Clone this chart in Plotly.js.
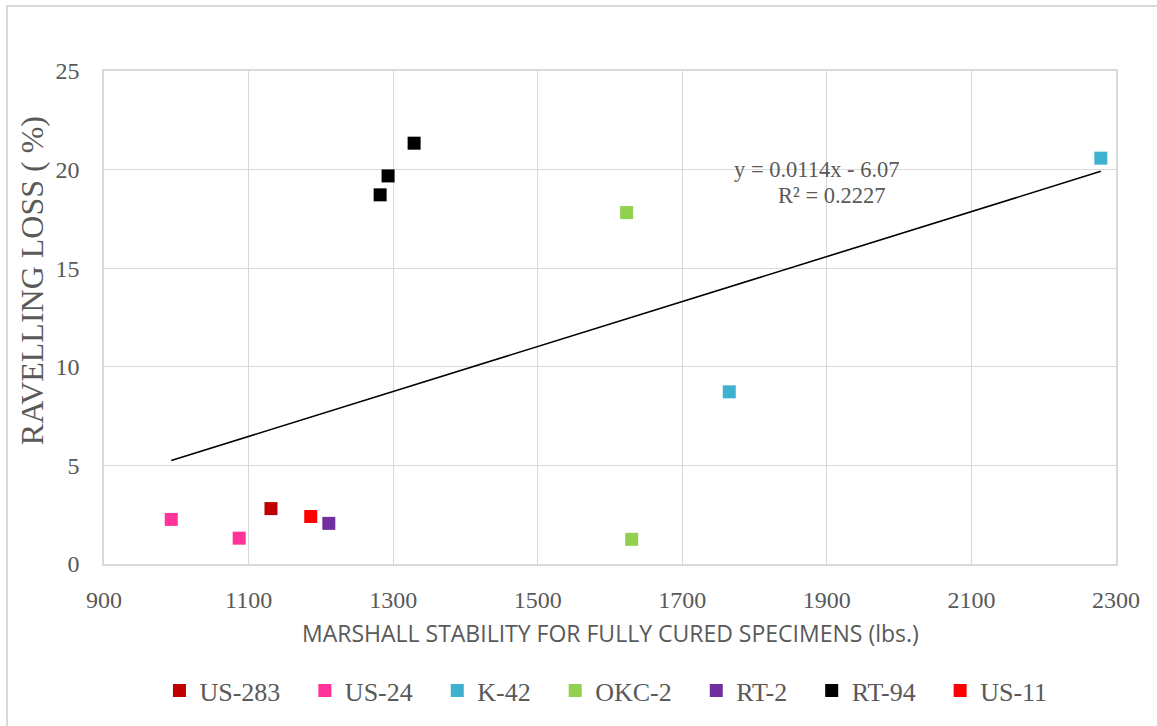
<!DOCTYPE html>
<html>
<head>
<meta charset="utf-8">
<script src="https://cdn.plot.ly/plotly-3.0.1.min.js"></script>
<style>
  html, body { margin: 0; padding: 0; background: #fff; }
  #wrap { position: relative; width: 1157px; height: 726px; }
  #chart { width: 1157px; height: 726px; }
  #frame { position: absolute; left: 6px; top: 5px; width: 1200px; height: 800px;
           border-left: 2px solid #d9d9d9; border-top: 2px solid #d9d9d9; pointer-events: none; }
</style>
</head>
<body>
<div id="wrap">
  <div id="chart"></div>
  <div id="frame"></div>
</div>
<script>
// Series (Marshall stability lbs., ravelling loss %)
const seriesNames = ["US-283", "US-24", "K-42", "OKC-2", "RT-2", "RT-94", "US-11"];
const seriesColors = ["#C00000", "#FF3399", "#3EB1CE", "#92D050", "#7030A0", "#000000", "#FF0000"];
const us283X = [1131];          const us283Y = [2.81];
const us24X  = [993, 1087];     const us24Y  = [2.26, 1.31];
const k42X   = [1765, 2279];    const k42Y   = [8.73, 20.58];
const okc2X  = [1623, 1630];    const okc2Y  = [17.82, 1.25];
const rt2X   = [1211];          const rt2Y   = [2.06];
const rt94X  = [1282, 1293, 1329]; const rt94Y = [18.72, 19.68, 21.34];
const us11X  = [1186];          const us11Y  = [2.41];

// Linear trendline (as reported on chart)
const trendSlope = 0.0114;
const trendIntercept = -6.07;
const trendEq = "y = 0.0114x - 6.07";
const trendR2 = "R² = 0.2227";

const xTicks = [900, 1100, 1300, 1500, 1700, 1900, 2100, 2300];
const yTicks = [0, 5, 10, 15, 20, 25];

const xTitle = "MARSHALL STABILITY FOR FULLY CURED SPECIMENS (lbs.)";
const yTitle = "RAVELLING LOSS ( %)";

const allX = [us283X, us24X, k42X, okc2X, rt2X, rt94X, us11X];
const allY = [us283Y, us24Y, k42Y, okc2Y, rt2Y, rt94Y, us11Y];

const pad = "\u00a0\u00a0\u00a0";
const traces = seriesNames.map((name, i) => ({
  type: "scatter", mode: "markers",
  name: i < seriesNames.length - 1 ? name + pad : name,
  x: allX[i], y: allY[i],
  marker: { symbol: "square", size: 13, color: seriesColors[i] },
  hovertemplate: name + ": (%{x}, %{y})<extra></extra>"
}));

const flatX = [].concat(...allX);
const xMin = Math.min(...flatX), xMax = Math.max(...flatX);
traces.push({
  type: "scatter", mode: "lines", showlegend: false,
  x: [xMin, xMax],
  y: [trendSlope * xMin + trendIntercept, trendSlope * xMax + trendIntercept],
  line: { color: "#000000", width: 1.6 },
  hoverinfo: "skip"
});

const serif = "Liberation Serif";
const txt = "#595959";

const layout = {
  width: 1157, height: 726,
  margin: { l: 104, r: 41, t: 71, b: 157 },
  paper_bgcolor: "#ffffff", plot_bgcolor: "#ffffff",
  font: { family: serif, color: txt },
  showlegend: true,
  xaxis: {
    range: [900, 2300], tickvals: xTicks, ticktext: xTicks.map(String),
    showgrid: true, gridcolor: "#d9d9d9", gridwidth: 1.3,
    showline: true, linecolor: "#d9d9d9", linewidth: 1.5, mirror: true,
    zeroline: false, ticks: "",
    ticklabelstandoff: 13,
    tickfont: { family: serif, size: 24, color: txt }
  },
  yaxis: {
    range: [0, 25], tickvals: yTicks, ticktext: yTicks.map(String),
    showgrid: true, gridcolor: "#d9d9d9", gridwidth: 1.3,
    showline: true, linecolor: "#d9d9d9", linewidth: 1.5, mirror: true,
    zeroline: false, ticks: "",
    ticklabelstandoff: 18,
    tickfont: { family: serif, size: 24, color: txt }
  },
  legend: {
    orientation: "h", x: 0.496, xanchor: "center", y: -0.257, yanchor: "middle",
    font: { family: serif, size: 26, color: txt },
    itemwidth: 30, tracegroupgap: 0
  },
  annotations: [
    { xref: "x", yref: "y", x: 1886, y: 20.03, xanchor: "center", yanchor: "middle",
      text: trendEq, showarrow: false,
      font: { family: serif, size: 22.5, color: txt } },
    { xref: "x", yref: "y", x: 1907, y: 18.67, xanchor: "center", yanchor: "middle",
      text: trendR2, showarrow: false,
      font: { family: serif, size: 22.5, color: txt } },
    { xref: "paper", yref: "paper", x: -0.071, y: 0.574, xanchor: "center", yanchor: "middle",
      text: yTitle, textangle: -90, showarrow: false,
      font: { family: serif, size: 32, color: txt } },
    { xref: "paper", yref: "paper", x: 0.5, y: -0.1406, xanchor: "center", yanchor: "middle",
      text: xTitle, showarrow: false,
      font: { family: "Open Sans", size: 23, color: txt } }
  ]
};

Plotly.newPlot("chart", traces, layout, { displayModeBar: false });
</script>
</body>
</html>
